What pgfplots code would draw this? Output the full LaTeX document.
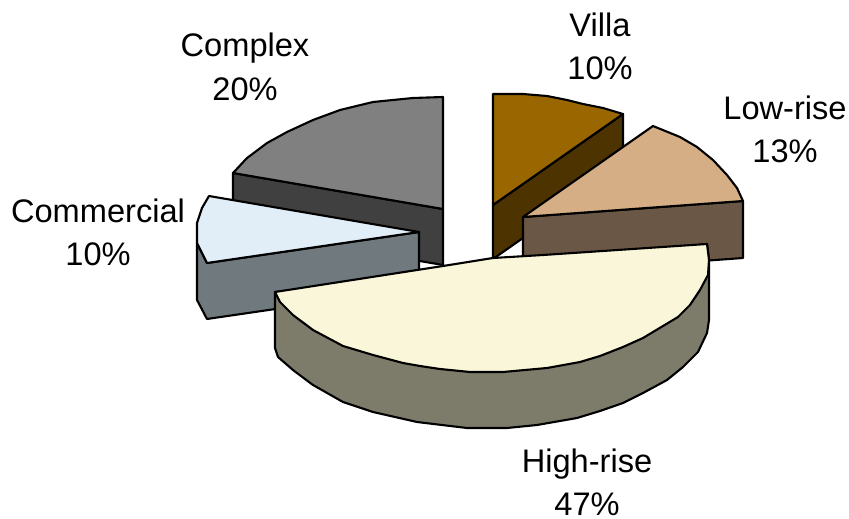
\documentclass[border=0pt]{standalone}
\usepackage{pgfplots}
\pgfplotsset{compat=1.18}
\usepackage{fontspec}
\setmainfont{Liberation Sans}
\definecolor{villaT}{HTML}{996600}
\definecolor{villaS}{HTML}{4D3300}
\definecolor{lowT}{HTML}{D6AE85}
\definecolor{lowS}{HTML}{6B5745}
\definecolor{highT}{HTML}{FAF6D9}
\definecolor{highS}{HTML}{7D7B6A}
\definecolor{commT}{HTML}{E1EDF7}
\definecolor{commS}{HTML}{70797D}
\definecolor{cplxT}{HTML}{808080}
\definecolor{cplxS}{HTML}{404040}
\pgfplotsset{wedge/.style={draw=black,line width=2.1pt,line join=round,mark=none}}
\newcommand{\lbl}[4]{%
  \node[anchor=base,inner sep=0pt,font=\fontsize{32.6}{36}\selectfont] at (axis cs:#1,#2) {#3};
  \node[anchor=base,inner sep=0pt,font=\fontsize{32.6}{36}\selectfont] at (axis cs:#1,#2+43) {#4};
}
\begin{document}
\begin{tikzpicture}
\useasboundingbox (0,0) rectangle (849pt,519pt);
\begin{axis}[
  at={(0,0)}, anchor=south west,
  scale only axis, width=849pt, height=519pt,
  xmin=0, xmax=849, ymin=0, ymax=519, y dir=reverse,
  hide axis, clip=false, axis on top=false]
% Complex, 20%
\addplot[wedge,fill=cplxS] coordinates {(233,173)(443,209)(443,265)(233,229)} --cycle;
\addplot[wedge,fill=cplxT] coordinates {(443,209)(443,97)(413,98)(373,102)(340,110)(313,120)(287,132)(267,143)(247,158)(233,173)} --cycle;
% Villa, 10%
\addplot[wedge,fill=villaS] coordinates {(493,205)(623,114)(623,168)(493,259)} --cycle;
\addplot[wedge,fill=villaT] coordinates {(493,205)(493,94)(523,94)(547,96)(567,100)(583,104)(603,108)(623,114)} --cycle;
% Low-rise, 13%
\addplot[wedge,fill=lowS] coordinates {(523,217)(743,201)(743,258)(523,274)} --cycle;
\addplot[wedge,fill=lowT] coordinates {(523,217)(653,126)(680,137)(697,147)(713,160)(727,175)(737,188)(743,201)} --cycle;
% Commercial, 10%
\addplot[wedge,fill=commS] coordinates {(197,243)(207,263)(419,232)(419,288)(207,319)(197,300)} --cycle;
\addplot[wedge,fill=commT] coordinates {(419,232)(209,196)(202,208)(197,223)(197,243)(207,263)} --cycle;
% High-rise, 47%
\addplot[wedge,fill=highS] coordinates {(275,292)(275,348)(278,357)(293,370)(313,385)(343,402)(373,412)(417,422)(467,428)(507,428)(537,425)(577,418)(600,411)(623,403)(643,393)(667,380)(683,367)(698,352)(707,333)(709,320)(709,260)(707,244)} --cycle;
\addplot[wedge,fill=highT] coordinates {(275,292)(443,266)(493,258)(543,255)(707,244)(709,260)(708,275)(700,290)(690,305)(678,317)(663,326)(643,338)(623,347)(600,356)(580,362)(547,368)(503,372)(470,372)(440,369)(420,366)(403,363)(373,355)(343,346)(313,330)(293,315)(280,302)} --cycle;
\lbl{600}{37}{Villa}{10\%}
\lbl{785}{119}{Low-rise}{13\%}
\lbl{245}{57}{Complex}{20\%}
\lbl{98}{222}{Commercial}{10\%}
\lbl{587}{472}{High-rise}{47\%}
\end{axis}
\end{tikzpicture}
\end{document}
